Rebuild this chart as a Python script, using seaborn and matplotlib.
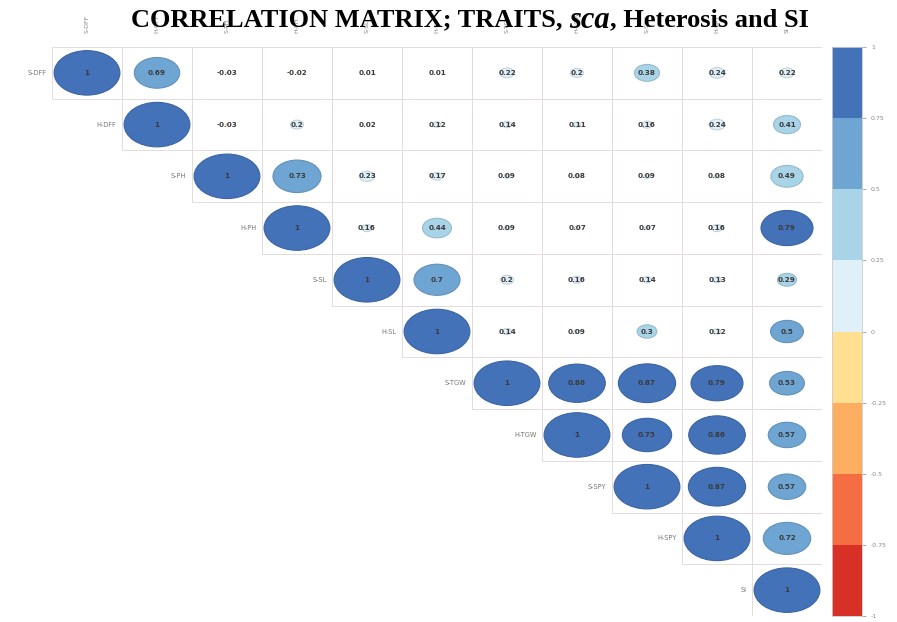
import numpy as np
import pandas as pd
import matplotlib
matplotlib.use("Agg")
import matplotlib.pyplot as plt
from matplotlib.colors import ListedColormap, BoundaryNorm
from matplotlib.patches import Ellipse, Rectangle
import matplotlib.cm as cm
import seaborn as sns

# ---- data ----
traits = ["S-DFF", "H-DFF", "S-PH", "H-PH", "S-SL", "H-SL",
          "S-TGW", "H-TGW", "S-SPY", "H-SPY", "SI"]
row_S_DFF = [1, 0.69, -0.03, -0.02, 0.01, 0.01, 0.22, 0.2, 0.38, 0.24, 0.22]
row_H_DFF = [1, -0.03, 0.2, 0.02, 0.12, 0.14, 0.11, 0.16, 0.24, 0.41]
row_S_PH = [1, 0.73, 0.23, 0.17, 0.09, 0.08, 0.09, 0.08, 0.49]
row_H_PH = [1, 0.16, 0.44, 0.09, 0.07, 0.07, 0.16, 0.79]
row_S_SL = [1, 0.7, 0.2, 0.16, 0.14, 0.13, 0.29]
row_H_SL = [1, 0.14, 0.09, 0.3, 0.12, 0.5]
row_S_TGW = [1, 0.86, 0.87, 0.79, 0.53]
row_H_TGW = [1, 0.75, 0.86, 0.57]
row_S_SPY = [1, 0.87, 0.57]
row_H_SPY = [1, 0.72]
row_SI = [1]
cbar_ticks = [-1, -0.75, -0.5, -0.25, 0, 0.25, 0.5, 0.75, 1]
cbar_labels = ["-1", "-0.75", "-0.5", "-0.25", "0", "0.25", "0.5", "0.75", "1"]
bin_colors = ["#d73027", "#f46d43", "#fdae61", "#fee090",
              "#e0f0f8", "#a9d4e8", "#6fa5d2", "#4372b8"]

rows = [row_S_DFF, row_H_DFF, row_S_PH, row_H_PH, row_S_SL, row_H_SL,
        row_S_TGW, row_H_TGW, row_S_SPY, row_H_SPY, row_SI]
n = len(traits)
mat = np.full((n, n), np.nan)
for i, r in enumerate(rows):
    mat[i, i:] = r
df = pd.DataFrame(mat, index=traits, columns=traits)
annot = np.vectorize(lambda v: "" if np.isnan(v) else f"{v:g}")(mat)

cmap = ListedColormap(bin_colors)
norm = BoundaryNorm(cbar_ticks, cmap.N)

W, H = 897, 622
fig = plt.figure(figsize=(W / 100, H / 100), dpi=100)
ax = fig.add_axes([52 / W, 1 - 616 / H, 770 / W, 569 / H])
cax = fig.add_axes([832 / W, 1 - 616 / H, 30 / W, 569 / H])

sns.heatmap(df, ax=ax, cmap=ListedColormap(["white"]), cbar=False,
            linewidths=0, annot=annot, fmt="",
            annot_kws={"fontsize": 5.2, "fontweight": "bold", "color": "#3a3a3a"})

for i in range(n):
    for j in range(i, n):
        ax.add_patch(Rectangle((j, i), 1, 1, fill=False, edgecolor="#e4dcdc",
                               lw=0.7, zorder=1.5))
        v = mat[i, j]
        col = cmap(norm(v))
        e = Ellipse((j + 0.5, i + 0.5), abs(v) * 0.94, abs(v) * 0.86, facecolor=col,
                    edgecolor=tuple(c * 0.88 for c in col[:3]), lw=0.8, zorder=2)
        ax.add_patch(e)
for t in ax.texts:
    t.set_zorder(5)

# column labels on top
ax.xaxis.tick_top()
ax.set_xticks(np.arange(n) + 0.5)
ax.set_xticklabels(traits, rotation=90, fontsize=4.5, color="#888888")
ax.tick_params(axis="x", length=0, pad=10)
ax.set_yticks([])
ax.set_xlabel("")
ax.set_ylabel("")

# row labels on the diagonal
for i, t in enumerate(traits):
    ax.text(i - 0.08, i + 0.5, t, ha="right", va="center", fontsize=4.8, color="#777777")

# colorbar
sm = cm.ScalarMappable(norm=norm, cmap=cmap)
cb = fig.colorbar(sm, cax=cax, ticks=cbar_ticks)
cb.ax.set_yticklabels(cbar_labels)
cb.ax.tick_params(labelsize=4.5, colors="#888888", length=3, width=0.5)
cb.outline.set_edgecolor("#cccccc")
cb.outline.set_linewidth(0.6)

# title with italic 'sca'
parts = [("CORRELATION MATRIX; TRAITS, ", "normal", 19),
         ("sca", "italic", 22),
         (", Heterosis and SI", "normal", 19)]
texts = []
for s, style, fs in parts:
    texts.append(fig.text(0, 1 - 20 / H, s, fontsize=fs, fontweight="bold",
                          style=style, family="Liberation Serif", va="center", ha="left",
                          zorder=10))
fig.canvas.draw()
r = fig.canvas.get_renderer()
widths = [t.get_window_extent(r).width for t in texts]
total = sum(widths)
x0 = 470 - total / 2
for t, w in zip(texts, widths):
    t.set_x(x0 / W)
    x0 += w

fig.savefig("out.png", dpi=100)
